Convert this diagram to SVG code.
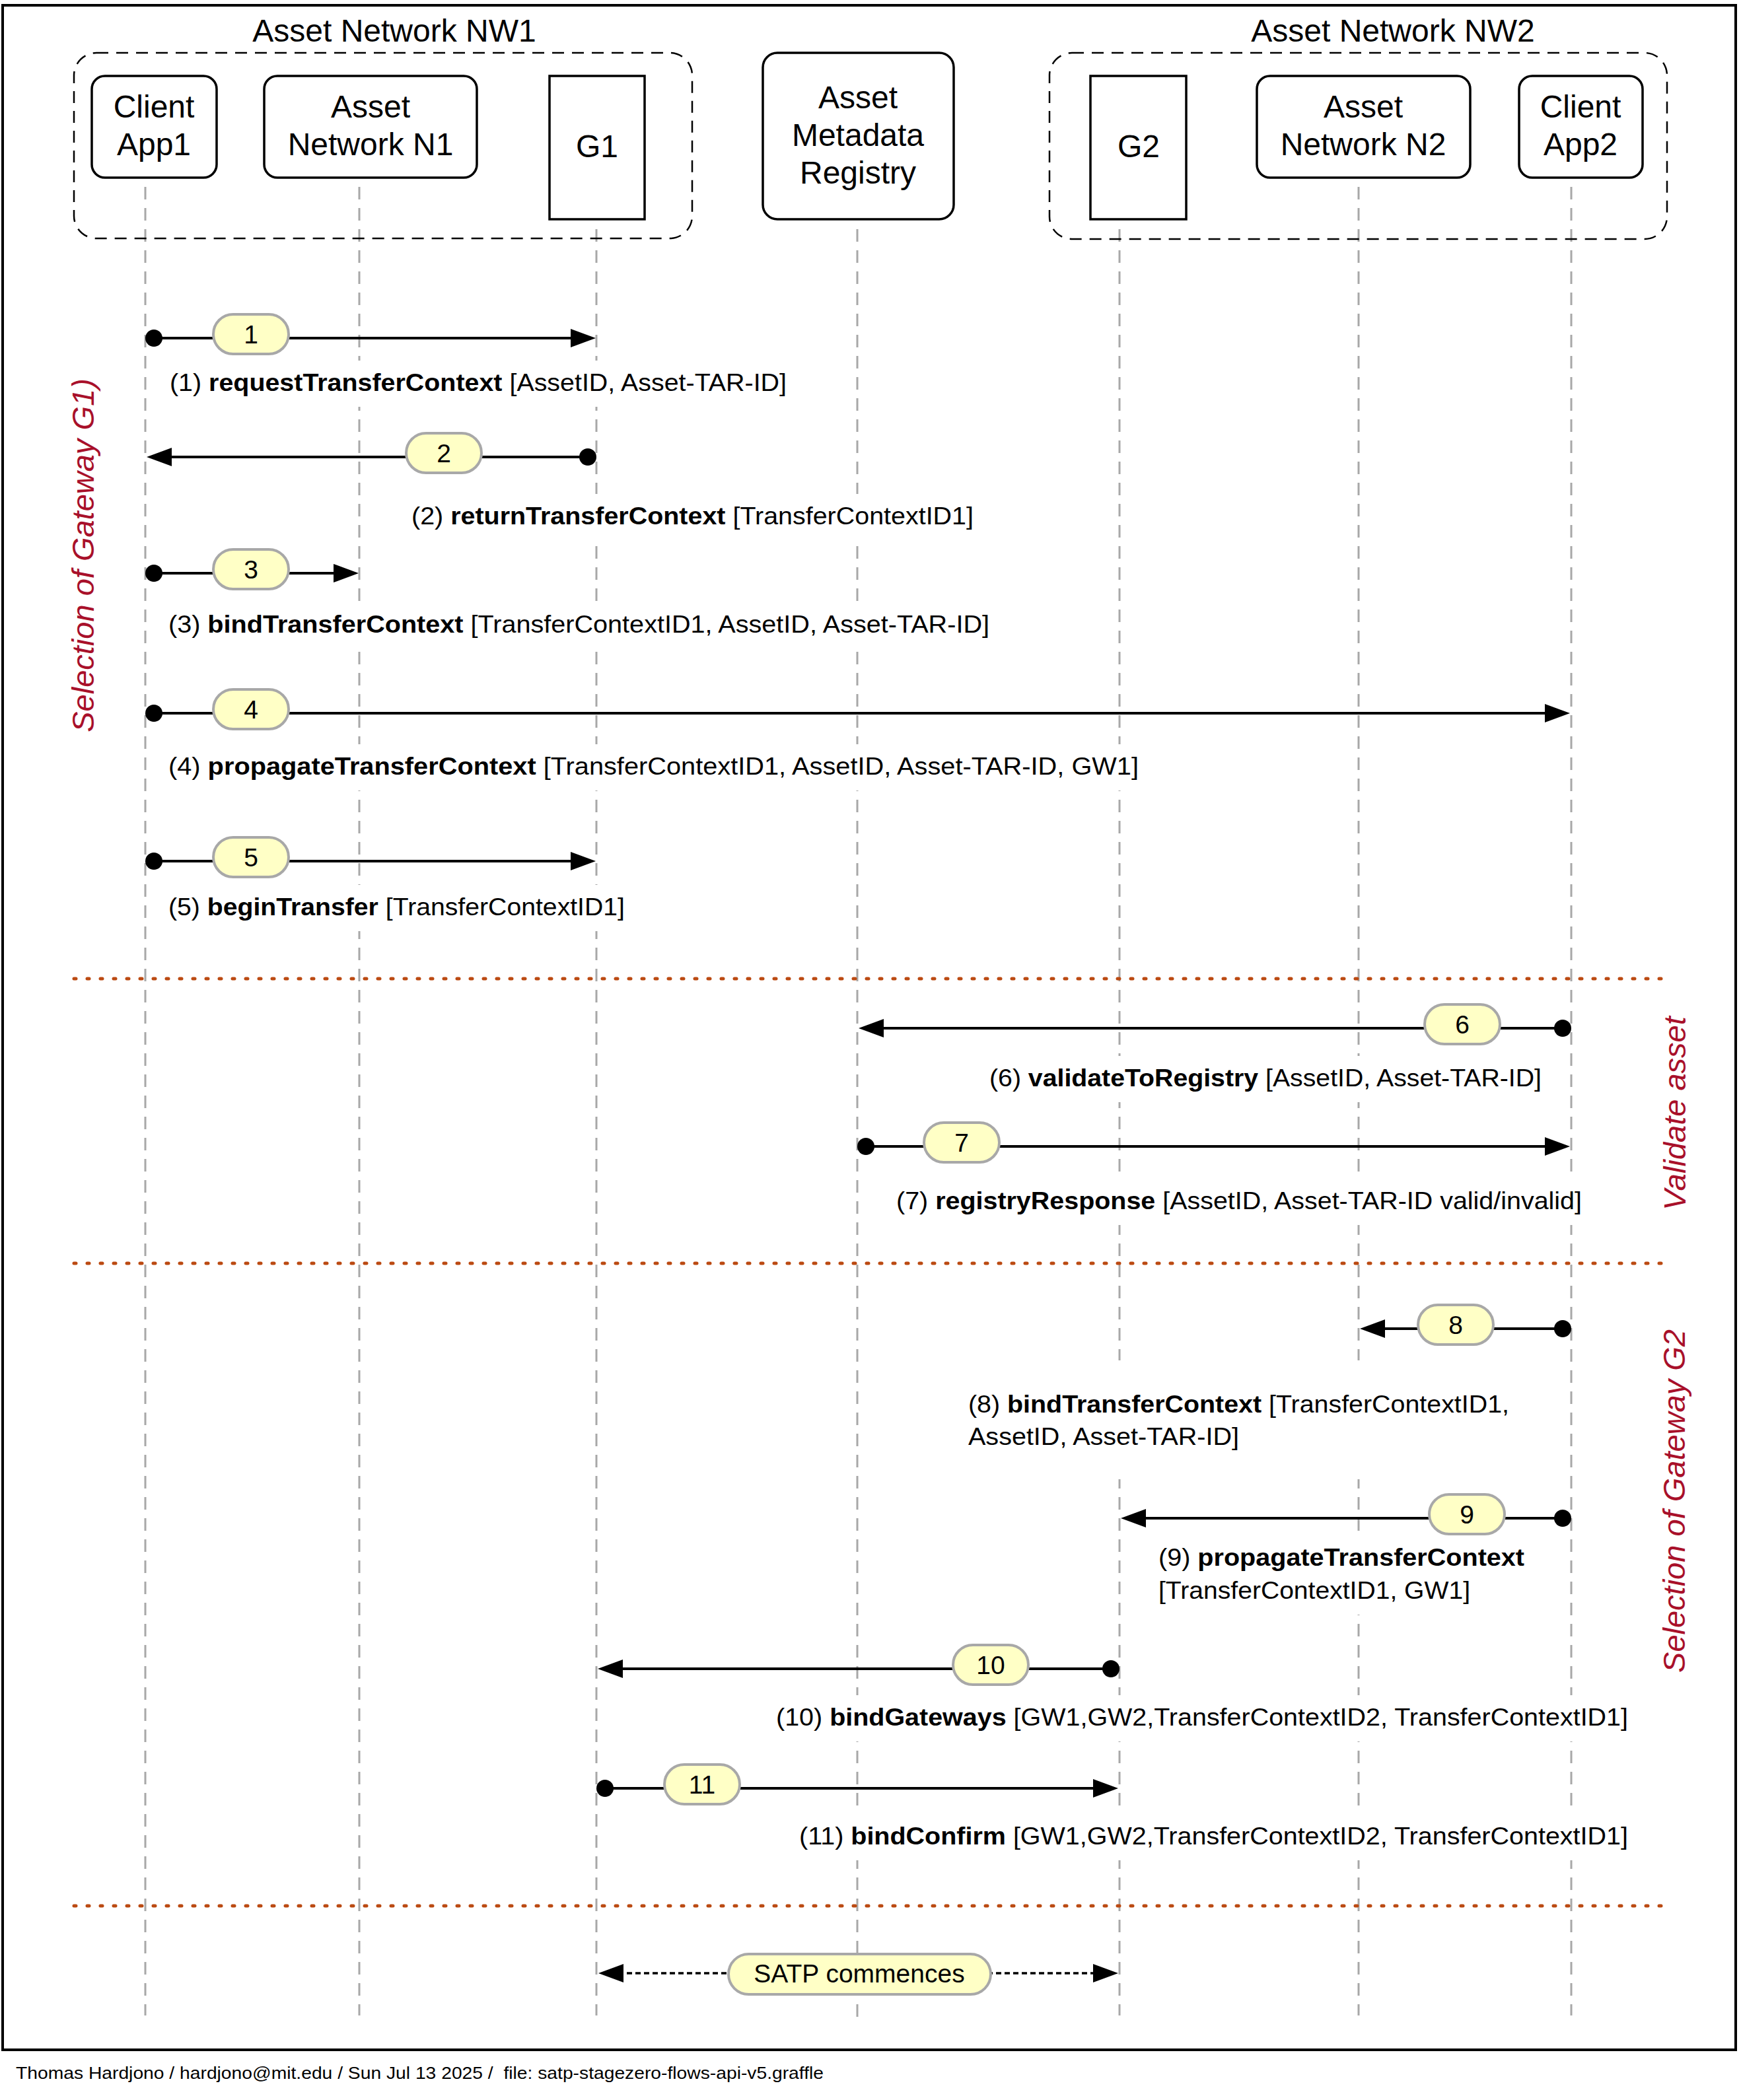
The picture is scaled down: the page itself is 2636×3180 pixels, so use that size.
<svg xmlns="http://www.w3.org/2000/svg" width="2636" height="3180" viewBox="0 0 2636 3180">
<style>
.t{font-family:"Liberation Sans",Arial,Helvetica,sans-serif;fill:#000}
.box{fill:#fff;stroke:#000;stroke-width:3.5}
.grp{fill:none;stroke:#000;stroke-width:2.5;stroke-dasharray:18 12}
.life{stroke:#a8a8a8;stroke-width:3;stroke-dasharray:19 13}
.sep{stroke:#bb4a12;stroke-width:5;stroke-dasharray:3 17;stroke-linecap:round}
.msg{stroke:#000;stroke-width:4;fill:none}
.sat{stroke:#000;stroke-width:3.5;fill:none;stroke-dasharray:8 5}
.badge{fill:#ffffc6;stroke:#a8a8a8;stroke-width:4}
.lbl{font-size:37px}
.num{font-size:39px;text-anchor:middle}
.nt{font-size:48px;text-anchor:middle}
.side{font-size:47px;font-style:italic;fill:#a8102a;text-anchor:middle}
.bg{fill:#fff}
</style>
<defs>
<marker id="arrow" viewBox="0 0 38 28" refX="8" refY="14" markerWidth="38" markerHeight="28" markerUnits="userSpaceOnUse" orient="auto-start-reverse"><path d="M0,0 L38,14 L0,28 z" fill="#000"/></marker>
<marker id="dot" viewBox="-13 -13 26 26" refX="0" refY="0" markerWidth="26" markerHeight="26" markerUnits="userSpaceOnUse"><circle r="13" fill="#000"/></marker>
</defs>
<rect x="0" y="0" width="2636" height="3180" fill="#fff"/>
<rect x="4" y="8" width="2624" height="3096" fill="none" stroke="#000" stroke-width="4"/>

<g id="lifelines">
<line class="life" x1="220" y1="283" x2="220" y2="3052"/>
<line class="life" x1="544" y1="283" x2="544" y2="3052"/>
<line class="life" x1="903" y1="347" x2="903" y2="3052"/>
<line class="life" x1="1298" y1="347" x2="1298" y2="3066"/>
<line class="life" x1="1695" y1="347" x2="1695" y2="3052"/>
<line class="life" x1="2057" y1="283" x2="2057" y2="3052"/>
<line class="life" x1="2379" y1="283" x2="2379" y2="3052"/>
</g>

<g id="groups">
<g id="nw1">
<rect class="grp" x="112" y="80" width="936" height="281" rx="34"/>
<text class="t nt" x="597" y="63">Asset Network NW1</text>
</g>
<g id="nw2">
<rect class="grp" x="1589" y="80" width="935" height="282" rx="34"/>
<text class="t nt" x="2109" y="63">Asset Network NW2</text>
</g>
</g>

<g id="client-app1">
<rect class="box" x="139" y="115" width="189" height="154" rx="20"/>
<text class="t nt" x="233" y="178">Client</text>
<text class="t nt" x="233" y="235">App1</text>
</g>
<g id="asset-network-n1">
<rect class="box" x="400" y="115" width="322" height="154" rx="20"/>
<text class="t nt" x="561" y="178">Asset</text>
<text class="t nt" x="561" y="235">Network N1</text>
</g>
<g id="g1">
<rect class="box" x="832" y="115" width="144" height="217"/>
<text class="t nt" x="904" y="238">G1</text>
</g>
<g id="registry">
<rect class="box" x="1155" y="80" width="289" height="252" rx="22"/>
<text class="t nt" x="1299" y="164">Asset</text>
<text class="t nt" x="1299" y="221">Metadata</text>
<text class="t nt" x="1299" y="278">Registry</text>
</g>
<g id="g2">
<rect class="box" x="1651" y="115" width="145" height="217"/>
<text class="t nt" x="1724" y="238">G2</text>
</g>
<g id="asset-network-n2">
<rect class="box" x="1903" y="115" width="323" height="154" rx="20"/>
<text class="t nt" x="2064" y="178">Asset</text>
<text class="t nt" x="2064" y="235">Network N2</text>
</g>
<g id="client-app2">
<rect class="box" x="2300" y="115" width="187" height="154" rx="20"/>
<text class="t nt" x="2393" y="178">Client</text>
<text class="t nt" x="2393" y="235">App2</text>
</g>

<g id="separators">
<line class="sep" x1="112" y1="1482" x2="2518" y2="1482"/>
<line class="sep" x1="112" y1="1913" x2="2518" y2="1913"/>
<line class="sep" x1="112" y1="2886" x2="2518" y2="2886"/>
</g>

<g id="side-labels">
<text class="t side" transform="translate(142,841) rotate(-90)">Selection of Gateway G1)</text>
<text class="t side" transform="translate(2552,1686) rotate(-90)">Validate asset</text>
<text class="t side" transform="translate(2551,2273) rotate(-90)">Selection of Gateway G2</text>
</g>

<g id="message-labels">
<rect class="bg" x="250" y="546" width="948" height="70"/>
<text class="t lbl" x="257" y="592" textLength="934" lengthAdjust="spacingAndGlyphs">(1) <tspan font-weight="bold">requestTransferContext</tspan> [AssetID, Asset-TAR-ID]</text>
<rect class="bg" x="616" y="748" width="865" height="70"/>
<text class="t lbl" x="623" y="794" textLength="851" lengthAdjust="spacingAndGlyphs">(2) <tspan font-weight="bold">returnTransferContext</tspan> [TransferContextID1]</text>
<rect class="bg" x="248" y="912" width="1257" height="70"/>
<text class="t lbl" x="255" y="958" textLength="1243" lengthAdjust="spacingAndGlyphs">(3) <tspan font-weight="bold">bindTransferContext</tspan> [TransferContextID1, AssetID, Asset-TAR-ID]</text>
<rect class="bg" x="248" y="1127" width="1483" height="70"/>
<text class="t lbl" x="255" y="1173" textLength="1469" lengthAdjust="spacingAndGlyphs">(4) <tspan font-weight="bold">propagateTransferContext</tspan> [TransferContextID1, AssetID, Asset-TAR-ID, GW1]</text>
<rect class="bg" x="248" y="1340" width="705" height="70"/>
<text class="t lbl" x="255" y="1386" textLength="691" lengthAdjust="spacingAndGlyphs">(5) <tspan font-weight="bold">beginTransfer</tspan> [TransferContextID1]</text>
<rect class="bg" x="1491" y="1599" width="850" height="70"/>
<text class="t lbl" x="1498" y="1645" textLength="836" lengthAdjust="spacingAndGlyphs">(6) <tspan font-weight="bold">validateToRegistry</tspan> [AssetID, Asset-TAR-ID]</text>
<rect class="bg" x="1350" y="1785" width="1052" height="70"/>
<text class="t lbl" x="1357" y="1831" textLength="1038" lengthAdjust="spacingAndGlyphs">(7) <tspan font-weight="bold">registryResponse</tspan> [AssetID, Asset-TAR-ID valid/invalid]</text>
<rect class="bg" x="1459" y="2060" width="833" height="180"/>
<text class="t lbl" x="1466" y="2139" textLength="819" lengthAdjust="spacingAndGlyphs">(8) <tspan font-weight="bold">bindTransferContext</tspan> [TransferContextID1,</text>
<text class="t lbl" x="1466" y="2188" textLength="410" lengthAdjust="spacingAndGlyphs">AssetID, Asset-TAR-ID]</text>
<rect class="bg" x="1747" y="2325" width="568" height="120"/>
<text class="t lbl" x="1754" y="2371" textLength="554" lengthAdjust="spacingAndGlyphs">(9) <tspan font-weight="bold">propagateTransferContext</tspan></text>
<text class="t lbl" x="1754" y="2421" textLength="472" lengthAdjust="spacingAndGlyphs">[TransferContextID1, GW1]</text>
<rect class="bg" x="1168" y="2567" width="1304" height="70"/>
<text class="t lbl" x="1175" y="2613" textLength="1290" lengthAdjust="spacingAndGlyphs">(10) <tspan font-weight="bold">bindGateways</tspan> [GW1,GW2,TransferContextID2, TransferContextID1]</text>
<rect class="bg" x="1203" y="2747" width="1269" height="70"/>
<text class="t lbl" x="1210" y="2793" textLength="1255" lengthAdjust="spacingAndGlyphs">(11) <tspan font-weight="bold">bindConfirm</tspan> [GW1,GW2,TransferContextID2, TransferContextID1]</text>
</g>

<g id="connectors">
<line class="msg" x1="233" y1="512" x2="872" y2="512" marker-start="url(#dot)" marker-end="url(#arrow)"/>
<line class="msg" x1="890" y1="692" x2="252" y2="692" marker-start="url(#dot)" marker-end="url(#arrow)"/>
<line class="msg" x1="233" y1="868" x2="513" y2="868" marker-start="url(#dot)" marker-end="url(#arrow)"/>
<line class="msg" x1="233" y1="1080" x2="2347" y2="1080" marker-start="url(#dot)" marker-end="url(#arrow)"/>
<line class="msg" x1="233" y1="1304" x2="872" y2="1304" marker-start="url(#dot)" marker-end="url(#arrow)"/>
<line class="msg" x1="2366" y1="1557" x2="1330" y2="1557" marker-start="url(#dot)" marker-end="url(#arrow)"/>
<line class="msg" x1="1311" y1="1736" x2="2347" y2="1736" marker-start="url(#dot)" marker-end="url(#arrow)"/>
<line class="msg" x1="2366" y1="2012" x2="2089" y2="2012" marker-start="url(#dot)" marker-end="url(#arrow)"/>
<line class="msg" x1="2366" y1="2299" x2="1727" y2="2299" marker-start="url(#dot)" marker-end="url(#arrow)"/>
<line class="msg" x1="1682" y1="2527" x2="935" y2="2527" marker-start="url(#dot)" marker-end="url(#arrow)"/>
<line class="msg" x1="916" y1="2708" x2="1663" y2="2708" marker-start="url(#dot)" marker-end="url(#arrow)"/>
<line class="sat" x1="936" y1="2988" x2="1663" y2="2988" marker-start="url(#arrow)" marker-end="url(#arrow)"/>
</g>

<g id="badges">
<g id="b1"><rect class="badge" x="323" y="476" width="114" height="60" rx="30"/><text class="t num" x="380" y="520">1</text></g>
<g id="b2"><rect class="badge" x="615" y="656" width="114" height="60" rx="30"/><text class="t num" x="672" y="700">2</text></g>
<g id="b3"><rect class="badge" x="323" y="832" width="114" height="60" rx="30"/><text class="t num" x="380" y="876">3</text></g>
<g id="b4"><rect class="badge" x="323" y="1044" width="114" height="60" rx="30"/><text class="t num" x="380" y="1088">4</text></g>
<g id="b5"><rect class="badge" x="323" y="1268" width="114" height="60" rx="30"/><text class="t num" x="380" y="1312">5</text></g>
<g id="b6"><rect class="badge" x="2157" y="1521" width="114" height="60" rx="30"/><text class="t num" x="2214" y="1565">6</text></g>
<g id="b7"><rect class="badge" x="1399" y="1700" width="114" height="60" rx="30"/><text class="t num" x="1456" y="1744">7</text></g>
<g id="b8"><rect class="badge" x="2147" y="1976" width="114" height="60" rx="30"/><text class="t num" x="2204" y="2020">8</text></g>
<g id="b9"><rect class="badge" x="2164" y="2263" width="114" height="60" rx="30"/><text class="t num" x="2221" y="2307">9</text></g>
<g id="b10"><rect class="badge" x="1443" y="2491" width="114" height="60" rx="30"/><text class="t num" x="1500" y="2535">10</text></g>
<g id="b11"><rect class="badge" x="1006" y="2672" width="114" height="60" rx="30"/><text class="t num" x="1063" y="2716">11</text></g>
<g id="satp"><rect class="badge" x="1103" y="2959" width="397" height="61" rx="30.5"/><text class="t" x="1301" y="3002" font-size="39" text-anchor="middle">SATP commences</text></g>
</g>

<text class="t" x="24" y="3148" font-size="25" xml:space="preserve" textLength="1223" lengthAdjust="spacingAndGlyphs">Thomas Hardjono / hardjono@mit.edu / Sun Jul 13 2025 /  file: satp-stagezero-flows-api-v5.graffle</text>
</svg>
